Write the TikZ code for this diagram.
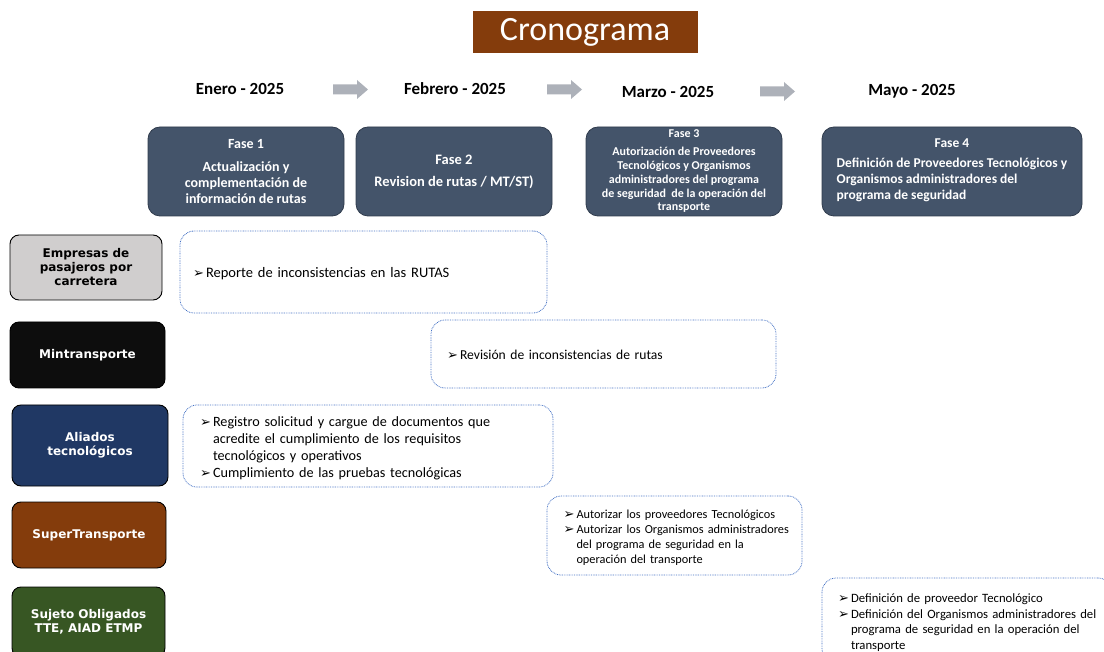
\documentclass[tikz,border=0pt]{standalone}
\usepackage{fontspec}
\setmainfont{Carlito}
\newfontfamily\labelfont{DejaVu Sans}
\newfontfamily\symfont{DejaVu Sans}
\usepackage{tikz}
\usetikzlibrary{
        positioning,
        shapes.arrows
    }
\definecolor{fasecol}{HTML}{44546A}
\definecolor{faseborde}{HTML}{2F3B4C}
\definecolor{cafe}{HTML}{843C0C}
\definecolor{gris}{HTML}{D0CECE}
\definecolor{negro}{HTML}{0D0D0D}
\definecolor{azul}{HTML}{203864}
\definecolor{verde}{HTML}{375623}
\definecolor{punteado}{HTML}{4472C4}
\definecolor{flechagris}{HTML}{ADB1B9}
\tikzset{fase/.style={rounded corners=12pt,fill=fasecol,draw=faseborde,line width=0.8pt,text=white,align=center,inner sep=0pt}}
\tikzset{actor/.style={rounded corners=9pt,draw=black,line width=0.9pt,align=center,inner sep=0pt,font=\labelfont\bfseries\fontsize{12}{14}\selectfont}}
\tikzset{tarea/.style={rounded corners=14pt,draw=punteado,line width=0.8pt,dash pattern=on 0.8pt off 0.9pt,align=left,inner sep=0pt}}
\tikzset{mes/.style={font=\bfseries\fontsize{17}{20}\selectfont}}
\tikzset{flecha/.style={fill=flechagris}}
\newcommand\punto[1]{\par\lineskip=0pt\noindent\makebox[13pt][l]{\symfont\fontsize{13}{13}\selectfont ➢}\begin{tabular}[t]{@{}l@{}}#1\end{tabular}\par}
\newcommand\flechamesa[1]{\fill[flecha] (#1) ++(-17.5,-5) -- ++(24,0) -- ++(0,-4.5) -- ++(11,9.5) -- ++(-11,9.5) -- ++(0,-4.5) -- ++(-24,0) -- cycle;}

\begin{document}
\begin{tikzpicture}[x=1pt,y=-1pt]
                \useasboundingbox (0,0) rectangle (1104,652);
                \clip (0,0) rectangle (1104,652);
                \node[fill=cafe,text=white,minimum width=225pt,minimum height=42pt,font=\fontsize{34}{36}\selectfont] (titulo) at (585,32) {\raisebox{-2pt}{Cronograma}};
                \node[mes] (enero) at (240,89) {Enero - 2025};
                \node[mes] (febrero) at (455,89) {Febrero - 2025};
                \node[mes] (marzo) at (668,92) {Marzo - 2025};
                \node[mes] (mayo) at (912,91) {Mayo - 2025};
                \coordinate (f1) at (350.5,89.5);
                \coordinate (f2) at (564.5,89.5);
                \coordinate (f3) at (777.5,91.5);
                \flechamesa{f1}
                \flechamesa{f2}
                \flechamesa{f3}
                \node[fase,minimum width=196pt,minimum height=89pt,font=\bfseries\fontsize{14}{16}\selectfont] (fase1) at (246,171.5)
                    {Fase 1\\[7pt]Actualización y\\complementación de\\información de rutas};
                \node[fase,minimum width=196pt,minimum height=89pt,font=\bfseries\fontsize{14.5}{16}\selectfont] (fase2) at (454,171.5)
                    {Fase 2\\[6pt]Revision de rutas / MT/ST)};
                \node[fase,minimum width=196pt,minimum height=89pt,font=\bfseries\fontsize{12}{13.8}\selectfont] (fase3) at (684,171.5)
                    {Fase 3\\[4pt]Autorización de Proveedores\\Tecnológicos y Organismos\\administradores del programa\\de seguridad \ de la operación del\\transporte};
                \node[fase,minimum width=260pt,minimum height=89pt,font=\bfseries\fontsize{13.5}{16}\selectfont] (fase4) at (952,171.5)
                    {Fase 4\\[7pt]\begin{tabular}{@{}l@{}}Definición de Proveedores Tecnológicos y\\Organismos administradores del\\programa de seguridad\end{tabular}};
                \node[actor,fill=gris,minimum width=152pt,minimum height=65pt] (empresas) at (86,267.5) {Empresas de\\pasajeros por\\carretera};
                \node[actor,fill=negro,text=white,minimum width=155pt,minimum height=66pt] (mintransporte) at (87.5,355) {Mintransporte};
                \node[actor,fill=azul,text=white,minimum width=156pt,minimum height=81pt] (aliados) at (90,445.5) {Aliados\\tecnológicos};
                \node[actor,fill=cafe,text=white,minimum width=154pt,minimum height=66pt] (super) at (89,535) {SuperTransporte};
                \node[actor,fill=verde,text=white,minimum width=153pt,minimum height=70pt] (sujeto) at (88.5,622) {Sujeto Obligados\\TTE, AIAD ETMP};
                \node[tarea,minimum width=367pt,minimum height=82pt,text width=341pt,font=\fontsize{14.5}{17}\selectfont] (reporte) at (363.5,272)
                    {\punto{Reporte de inconsistencias en las RUTAS}};
                \node[tarea,minimum width=345pt,minimum height=68pt,text width=313pt,font=\fontsize{13.6}{16}\selectfont] (revision) at (603.5,354)
                    {\punto{Revisión de inconsistencias de rutas}};
                \node[tarea,minimum width=370pt,minimum height=82pt,text width=336pt,font=\fontsize{14.2}{17}\selectfont] (registro) at (368,446)
                    {\punto{Registro solicitud y cargue de documentos que\\acredite el cumplimiento de los requisitos\\tecnológicos y operativos}\punto{Cumplimiento de las pruebas tecnológicas}};
                \node[tarea,minimum width=255pt,minimum height=79pt,text width=222pt,font=\fontsize{12.3}{15}\selectfont] (autorizar) at (674.5,535.5)
                    {\punto{Autorizar los proveedores Tecnológicos}\punto{Autorizar los Organismos administradores\\del programa de seguridad en la\\operación del transporte}};
                \node[tarea,minimum width=290pt,minimum height=85pt,text width=258pt,font=\fontsize{12.7}{15.6}\selectfont] (definicion) at (967,620.5)
                    {\punto{Definición de proveedor Tecnológico}\punto{Definición del Organismos administradores del\\programa de seguridad en la operación del\\transporte}};
            \end{tikzpicture}
\end{document}
